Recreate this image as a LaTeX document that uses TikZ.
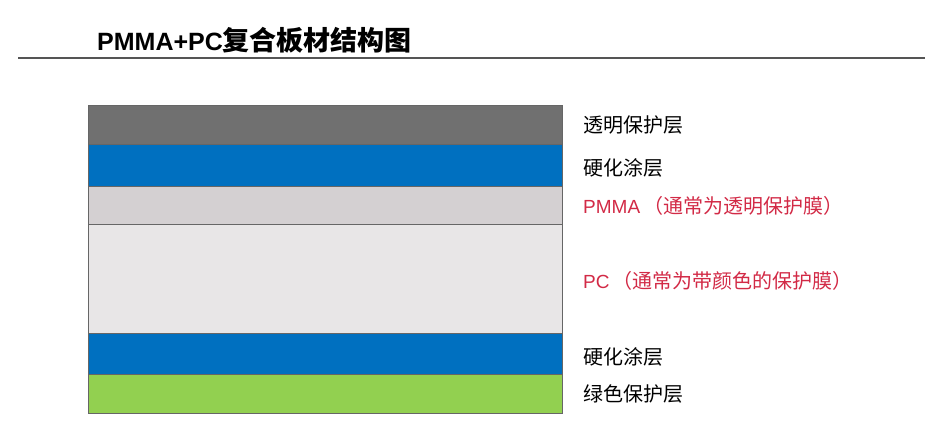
\documentclass[tikz,border=0pt]{standalone}
\usepackage{fontspec}
\setmainfont{Liberation Sans}
\newfontfamily\cjk{Noto Sans CJK SC}
\newfontfamily\cjkbold{Noto Sans CJK SC Bold}
\definecolor{topgray}{HTML}{707070}
\definecolor{hardblue}{HTML}{0070C0}
\definecolor{pmmagray}{HTML}{D4D0D2}
\definecolor{pcgray}{HTML}{E8E6E7}
\definecolor{greenlayer}{HTML}{92D050}
\definecolor{labelred}{HTML}{D22A46}
\definecolor{rulegray}{HTML}{555555}
\begin{document}
\begin{tikzpicture}[x=1pt,y=-1pt,
  layer/.style={draw=black!60,line width=0.8pt},
  lbl/.style={anchor=west,inner sep=0pt,font=\fontsize{20}{20}\selectfont\cjk},
  redlbl/.style={lbl,text=labelred}]
\useasboundingbox (0,0) rectangle (931,441);
% title
\node[anchor=west,inner sep=0pt] (title) at (97,40)
  {\fontsize{25}{25}\selectfont\bfseries PMMA+PC{\cjkbold\fontsize{27}{27}\selectfont 复合板材结构图}};
\coordinate (rl) at (18,58);
\coordinate (rr) at (925,58);
\draw[rulegray,line width=1.5pt] (rl) -- (rr);
% layers
\path[layer,fill=topgray] (88,105) rectangle (562,144);
\path[layer,fill=hardblue] (88,144) rectangle (562,186);
\path[layer,fill=pmmagray] (88,186) rectangle (562,224);
\path[layer,fill=pcgray] (88,224) rectangle (562,333);
\path[layer,fill=hardblue] (88,333) rectangle (562,374);
\path[layer,fill=greenlayer] (88,374) rectangle (562,413);
% labels
\node[lbl] (l1) at (583,125) {透明保护层};
\node[lbl] (l2) at (583,168) {硬化涂层};
\node[redlbl] (l3) at (583,206) {{\fontspec{Liberation Sans}\fontsize{19}{19}\selectfont PMMA\,}（通常为透明保护膜）};
\node[redlbl] (l4) at (583,281) {{\fontspec{Liberation Sans}\fontsize{19}{19}\selectfont PC\,}（通常为带颜色的保护膜）};
\node[lbl] (l5) at (583,357) {硬化涂层};
\node[lbl] (l6) at (583,394) {绿色保护层};
\end{tikzpicture}
\end{document}
